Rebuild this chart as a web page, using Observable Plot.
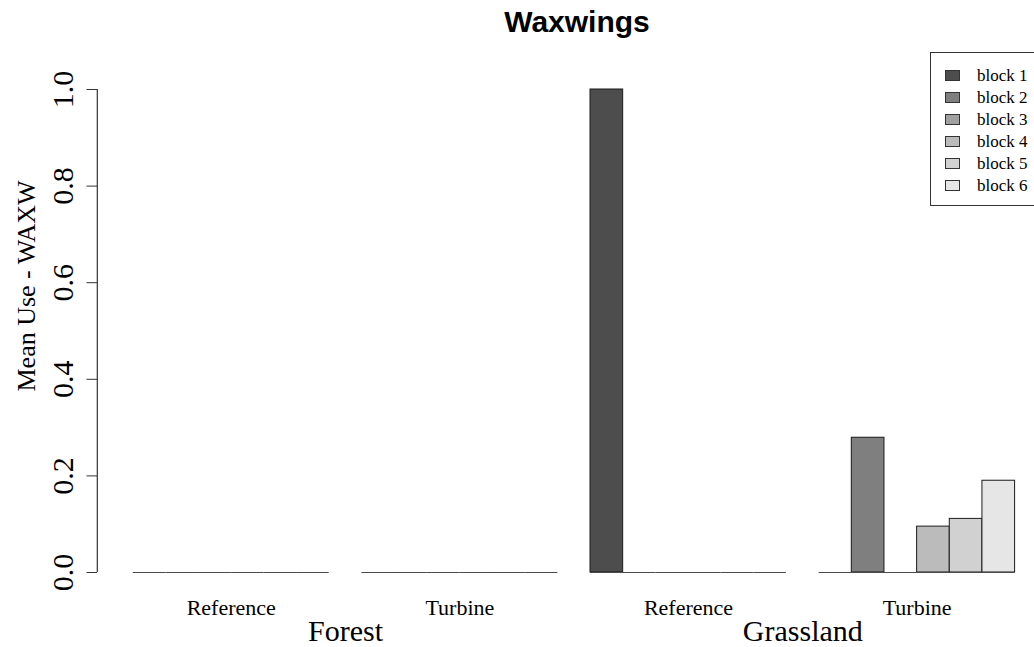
<!DOCTYPE html>
<html>
<head>
<meta charset="utf-8">
<script src="https://cdn.jsdelivr.net/npm/d3@7"></script>
<script src="https://cdn.jsdelivr.net/npm/@observablehq/plot@0.6"></script>
<style>
  html, body { margin: 0; padding: 0; background: #fff; overflow: hidden; }
  #wrap { position: relative; width: 1034px; height: 647px; overflow: hidden; }
  #title { position: absolute; left: 377px; top: 7px; width: 400px; text-align: center;
           font: bold 30px "Liberation Sans", Arial, sans-serif; line-height: 30px; color: #000; }
  #legend { position: absolute; left: 930px; top: 52px; width: 130px; height: 154px;
            border: 1px solid #333; background: #fff; box-sizing: border-box; }
  .lrow { position: absolute; left: 0; height: 22px; width: 130px; }
  .lsw { position: absolute; left: 14px; top: 5px; width: 15px; height: 11px; border: 1px solid #333; box-sizing: border-box; }
  .ltx { position: absolute; left: 46px; top: 0; font: 17px "Liberation Serif", "Times New Roman", serif; line-height: 22px; color: #000; white-space: nowrap; }
</style>
</head>
<body>
<div id="wrap">
  <div id="chart"></div>
  <div id="title"></div>
  <div id="legend"></div>
</div>
<script>
// ---- data ----
const chartTitle = "Waxwings";
const yLabel = "Mean Use - WAXW";
const blocks = ["block 1", "block 2", "block 3", "block 4", "block 5", "block 6"];
const habitats = ["Forest", "Grassland"];
const treatments = ["Reference", "Turbine"];
const forestReference    = [0, 0, 0, 0, 0, 0];
const forestTurbine      = [0, 0, 0, 0, 0, 0];
const grasslandReference = [1.0, 0, 0, 0, 0, 0];
const grasslandTurbine   = [0, 0.279, 0, 0.095, 0.111, 0.19];
const yTicks = [0, 0.2, 0.4, 0.6, 0.8, 1.0];

// ---- styles ----
const palette = ["#4d4d4d", "#7f7f7f", "#a0a0a0", "#bbbbbb", "#d1d1d1", "#e6e6e6"];

// ---- layout (R barplot style: bar units, one-unit gap between groups) ----
const groups = [
  {habitat: habitats[0], treatment: treatments[0], values: forestReference},
  {habitat: habitats[0], treatment: treatments[1], values: forestTurbine},
  {habitat: habitats[1], treatment: treatments[0], values: grasslandReference},
  {habitat: habitats[1], treatment: treatments[1], values: grasslandTurbine}
];
const nb = blocks.length;
const rows = [];
groups.forEach((g, gi) => {
  g.values.forEach((v, bi) => {
    const start = 1 + gi * (nb + 1) + bi;
    rows.push({group: gi, block: blocks[bi], value: v, x1: start, x2: start + 1});
  });
});
const treatRows = groups.map((g, gi) => ({label: g.treatment, cx: 1 + gi * (nb + 1) + nb / 2}));
const habRows = habitats.map(h => {
  const cs = treatRows.filter((t, i) => groups[i].habitat === h).map(t => t.cx);
  return {label: h, cx: d3.mean(cs)};
});
const totalUnits = groups.length * (nb + 1);

const serif = "Liberation Serif, Times New Roman, serif";

const chart = Plot.plot({
  width: 1034,
  height: 647,
  marginTop: 89,
  marginBottom: 75,
  marginLeft: 97,
  marginRight: 0,
  style: {fontFamily: serif, background: "white", color: "#000", overflow: "visible"},
  x: {domain: [0, totalUnits], range: [100.1, 1014.6], axis: null},
  y: {domain: [0, 1], range: [572, 89], axis: null},
  color: {domain: blocks, range: palette},
  marks: [
    Plot.rect(rows, {x1: "x1", x2: "x2", y1: 0, y2: "value", fill: "block", stroke: "#1a1a1a", strokeWidth: 1}),
    Plot.ruleY(rows, {y: 0, x1: "x1", x2: "x2", stroke: "#4a4a4a", strokeWidth: 1.2}),
    Plot.ruleX([0], {y1: 0, y2: 1, dx: -3.3, stroke: "#333", strokeWidth: 1.2}),
    Plot.axisY(yTicks, {anchor: "left", tickSize: 10.5, tickFormat: () => "", stroke: "#333", label: null}),
    Plot.text(yTicks, {y: d => d, frameAnchor: "left", dx: -34.5, rotate: -90, text: d3.format(".1f"),
                       fontSize: 30, textAnchor: "middle", lineAnchor: "middle", fill: "#000"}),
    Plot.text([yLabel], {frameAnchor: "left", dx: -71, dy: -45, rotate: -90, text: d => d,
                         fontSize: 26, textAnchor: "middle", lineAnchor: "middle", fill: "#000"}),
    Plot.text(treatRows, {x: "cx", y: 0, dy: 42, text: "label", fontSize: 22, lineAnchor: "bottom", textAnchor: "middle", fill: "#000"}),
    Plot.text(habRows, {x: "cx", y: 0, dy: 68, text: "label", fontSize: 30, lineAnchor: "bottom", textAnchor: "middle", fill: "#000"})
  ]
});
document.getElementById("chart").appendChild(chart);
document.getElementById("title").textContent = chartTitle;

// legend
const leg = document.getElementById("legend");
blocks.forEach((b, i) => {
  const row = document.createElement("div");
  row.className = "lrow";
  row.style.top = (12 + i * 21.9) + "px";
  const sw = document.createElement("div");
  sw.className = "lsw";
  sw.style.background = palette[i];
  const tx = document.createElement("div");
  tx.className = "ltx";
  tx.textContent = b;
  row.appendChild(sw);
  row.appendChild(tx);
  leg.appendChild(row);
});
</script>
</body>
</html>
